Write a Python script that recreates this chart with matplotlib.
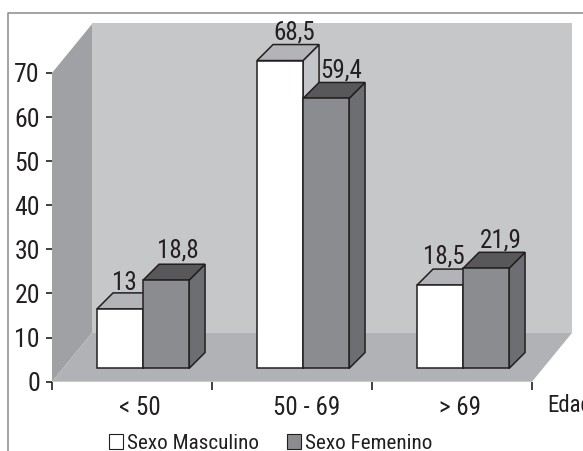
import matplotlib
matplotlib.use("Agg")
import matplotlib.pyplot as plt
from matplotlib.lines import Line2D
from matplotlib.patches import Patch, Polygon

plt.rcParams["font.family"] = ["Roboto Condensed", "Archivo Narrow", "Liberation Sans", "DejaVu Sans"]

categories = ["< 50", "50 - 69", "> 69"]
yticks = [0, 10, 20, 30, 40, 50, 60, 70]
series_names = ["Sexo Masculino", "Sexo Femenino"]
# numbers printed over the bars
male_labels = [13, 68.5, 18.5]
female_labels = [18.8, 59.4, 21.9]
# bar heights as they read against the axis (the drawing is a bit taller than the labels)
male_heights = [13.5, 69.8, 18.9]
female_heights = [20.0, 61.2, 22.7]

# colours
EDGE = "#231f20"
WALL_BACK = "#c6c7c9"
WALL_SIDE = "#a0a1a4"
FLOOR = "#b1b2b5"
MALE = ("#ffffff", "#b3b4b7", "#c4c5c8")      # front, top, side
FEMALE = ("#8b8c8f", "#58585b", "#6d6e71")

W, H = 583, 451
fig = plt.figure(figsize=(W / 100, H / 100), dpi=100)
ax = fig.add_axes([52 / W, (H - 381.7) / H, 480 / W, 308.8 / H])
ax.set_xlim(0, 3)
ax.set_ylim(0, 70)
for s in ax.spines.values():
    s.set_visible(False)
ax.patch.set_visible(False)

# 3d offsets, in data units
wall_dx, wall_dy = 0.253, 11.2
front_dx, front_dy = 0.069, 3.0
depth_dx, depth_dy = 0.1, 3.63
bar_w = 0.2875


def poly(pts, color, edge="none", z=1):
    ax.add_patch(Polygon(pts, closed=True, facecolor=color, edgecolor=edge,
                         linewidth=1.1, joinstyle="miter", clip_on=False, zorder=z))


# walls and floor
poly([(0, 0), (wall_dx, wall_dy), (wall_dx, 70 + wall_dy), (0, 70)], WALL_SIDE)
poly([(wall_dx, wall_dy), (3 + wall_dx, wall_dy), (3 + wall_dx, 70 + wall_dy),
      (wall_dx, 70 + wall_dy)], WALL_BACK)
poly([(0, 0), (3, 0), (3 + wall_dx, wall_dy), (wall_dx, wall_dy)], FLOOR)


def bar3d(x0, h, cols, z):
    x1 = x0 + bar_w
    y0 = front_dy
    y1 = front_dy + h
    poly([(x1, y0), (x1 + depth_dx, y0 + depth_dy), (x1 + depth_dx, y1 + depth_dy), (x1, y1)],
         cols[2], EDGE, z)
    poly([(x0, y1), (x1, y1), (x1 + depth_dx, y1 + depth_dy), (x0 + depth_dx, y1 + depth_dy)],
         cols[1], EDGE, z)
    poly([(x0, y0), (x1, y0), (x1, y1), (x0, y1)], cols[0], EDGE, z)


# label nudges in pixels from the top of each bar
male_nudge = [(-4, 3), (6, 5), (-4.5, 5.5)]
female_nudge = [(4, 6.5), (7.5, 5), (7, 5)]

for i in range(3):
    xc = i + 0.5 + front_dx
    bar3d(xc - bar_w, male_heights[i], MALE, 3)
    bar3d(xc, female_heights[i], FEMALE, 4)

    for x0, h, val, nudge in [(xc - bar_w, male_heights[i], male_labels[i], male_nudge[i]),
                              (xc, female_heights[i], female_labels[i], female_nudge[i])]:
        txt = ("%g" % val).replace(".", ",")
        ax.annotate(txt, (x0 + bar_w / 2 + depth_dx / 2, front_dy + h + depth_dy),
                    xytext=(nudge[0] * 0.72, nudge[1] * 0.72), textcoords="offset points",
                    ha="center", va="baseline", fontsize=18, color=EDGE,
                    annotation_clip=False, zorder=6)

# axes ticks
ax.set_yticks(yticks)
ax.set_xticks([0, 1, 2, 3])
ax.set_xticklabels([])
ax.tick_params(axis="y", length=4.3, width=1.2, color=EDGE, labelcolor=EDGE, pad=4.5, labelsize=18.5)
ax.tick_params(axis="x", which="major", length=5.8, width=1.2, color=EDGE)
# category labels sit a little right of the middle of each slot
ax.set_xticks([0.547, 1.59, 2.55], categories, minor=True)
ax.tick_params(axis="x", which="minor", length=0, pad=10.5, labelsize=18, labelcolor=EDGE)
ax.text((547 - 52) / 480, -30 / 308.8, "Edad", transform=ax.transAxes, ha="left",
        va="baseline", fontsize=16.5, color=EDGE, clip_on=False)

# legend
handles = [Patch(facecolor=MALE[0], edgecolor=EDGE, linewidth=0.8),
           Patch(facecolor=FEMALE[0], edgecolor=EDGE, linewidth=0.8)]
fig.legend(handles, series_names, loc="lower left", bbox_to_anchor=(108.5 / W, -2 / H), ncols=2,
           frameon=False, fontsize=15.2, handlelength=0.68, handleheight=0.76, handletextpad=0.2,
           columnspacing=1.3, borderpad=0, borderaxespad=0, labelcolor=EDGE)

# thin frame of the original figure, cut off by the page
fig.add_artist(Line2D([8 / W, 8 / W, 1], [0, (H - 13) / H, (H - 13) / H],
                      color="#8a8a8a", linewidth=1.1))

fig.savefig("out.png", dpi=100)
